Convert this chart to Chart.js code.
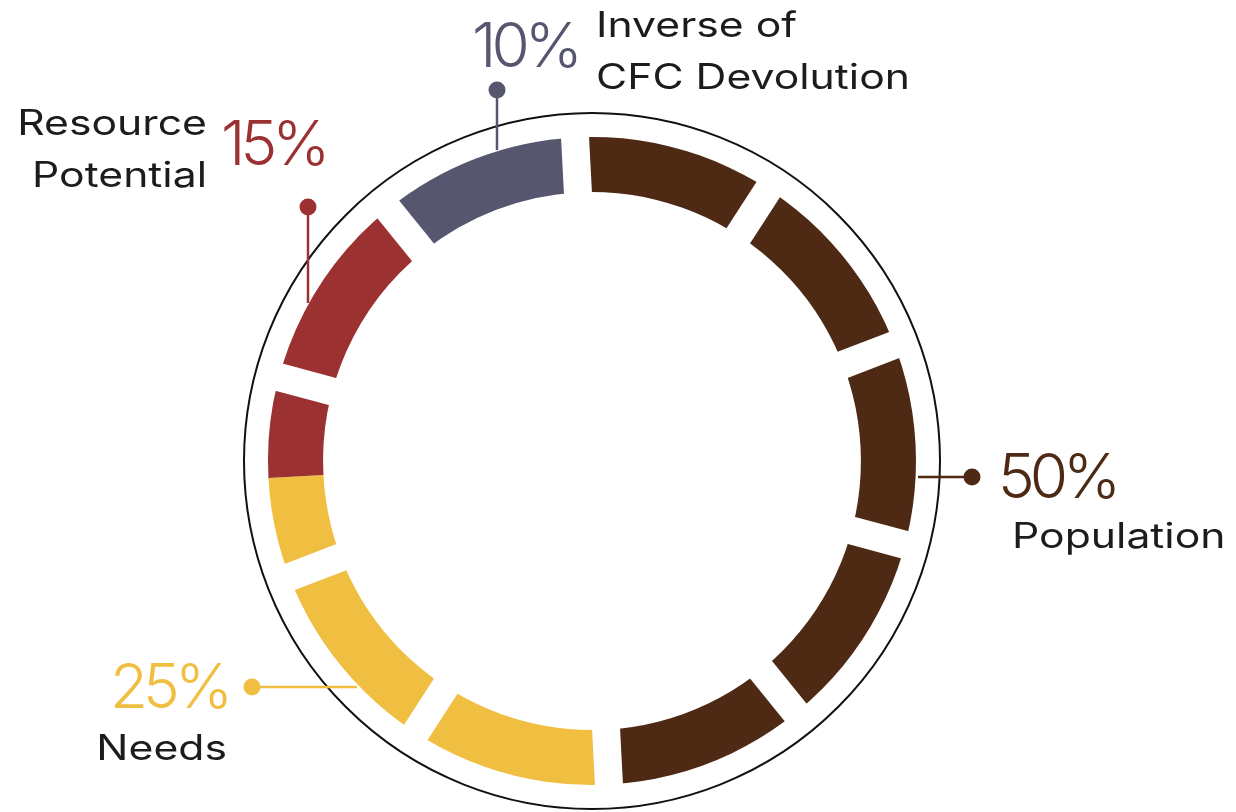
<!DOCTYPE html>
<html>
<head>
<meta charset="utf-8">
<script src="https://cdn.jsdelivr.net/npm/chart.js@4/dist/chart.umd.min.js"></script>
<style>
  html, body { margin: 0; padding: 0; background: #fff; }
</style>
</head>
<body>
<canvas id="ringChart" width="1236" height="812"></canvas>
<script>
const categories = ["Population", "Needs", "Resource\nPotential", "Inverse of\nCFC Devolution"];
const shares = [50, 25, 15, 10];
const shareLabels = ["50%", "25%", "15%", "10%"];
const colors = ["#4e2a15", "#f0bf42", "#9c3131", "#56566f"];
const blockSize = 10; // the ring is cut into blocks of 10%

// caption placement, one entry per category
const captionLayout = [
  { pct: [998, 498, "left"], name: [1012, 548, "left"], dot: [972, 477], lineTo: [918, 477] },
  { pct: [228, 708, "right"], name: [227, 760, "right"], dot: [252, 687], lineTo: [357, 687] },
  { pct: [221, 165, "left"], name: [207, 135, "right"], dot: [308, 207], lineTo: [308, 303] },
  { pct: [472, 67, "left"], name: [596, 37, "left"], dot: [497, 90], lineTo: [497, 150] },
];

const textFont = "Inter, 'Noto Sans', sans-serif";
const nameStretch = 1.22; // the original face is wider than Inter

function drawLine(ctx, text, x, y, align, stretch) {
  ctx.save();
  ctx.translate(x, y);
  ctx.scale(stretch, 1);
  ctx.textAlign = align;
  ctx.fillText(text, 0, 0);
  ctx.restore();
}

const ringDecor = {
  id: "ringDecor",
  afterDatasetsDraw(chart) {
    const ctx = chart.ctx;
    const arcs = chart.getDatasetMeta(0).data;
    const { x, y, innerRadius, outerRadius, startAngle } = arcs[0];
    const total = shares.reduce((a, b) => a + b, 0);

    ctx.save();
    // white cuts between blocks
    ctx.strokeStyle = "#fff";
    ctx.lineWidth = 28;
    ctx.lineCap = "butt";
    for (let k = 0; k < total / blockSize; k++) {
      const a = startAngle + (k * blockSize / total) * Math.PI * 2;
      ctx.beginPath();
      ctx.moveTo(x + Math.cos(a) * (innerRadius - 4), y + Math.sin(a) * (innerRadius - 4));
      ctx.lineTo(x + Math.cos(a) * (outerRadius + 4), y + Math.sin(a) * (outerRadius + 4));
      ctx.stroke();
    }

    // thin outline circle
    ctx.strokeStyle = "#111";
    ctx.lineWidth = 2;
    ctx.beginPath();
    ctx.arc(x, y, outerRadius + 24, 0, Math.PI * 2);
    ctx.stroke();

    // leaders, dots and captions
    captionLayout.forEach((c, i) => {
      ctx.strokeStyle = colors[i];
      ctx.fillStyle = colors[i];
      ctx.lineWidth = 2.5;
      ctx.beginPath();
      ctx.moveTo(c.dot[0], c.dot[1]);
      ctx.lineTo(c.lineTo[0], c.lineTo[1]);
      ctx.stroke();
      ctx.beginPath();
      ctx.arc(c.dot[0], c.dot[1], 8.5, 0, Math.PI * 2);
      ctx.fill();

      ctx.textBaseline = "alphabetic";
      ctx.font = "350 62px " + textFont;
      ctx.letterSpacing = "-5px";
      drawLine(ctx, shareLabels[i], c.pct[0], c.pct[1], c.pct[2], 1);

      ctx.letterSpacing = "0px";
      ctx.font = "400 35px " + textFont;
      ctx.fillStyle = "#1c1c1c";
      categories[i].split("\n").forEach((line, j) => {
        drawLine(ctx, line, c.name[0], c.name[1] + j * 52, c.name[2], nameStretch);
      });
    });
    ctx.restore();
  },
};

new Chart(document.getElementById("ringChart"), {
  type: "doughnut",
  data: {
    labels: categories,
    datasets: [
      {
        data: shares,
        backgroundColor: colors,
        borderWidth: 0,
      },
    ],
  },
  options: {
    responsive: false,
    animation: false,
    rotation: -3,
    cutout: "83%",
    layout: {
      padding: { left: 268, right: 320, top: 137, bottom: 27 },
    },
    plugins: {
      legend: { display: false },
      tooltip: { enabled: false },
    },
  },
  plugins: [ringDecor],
});
</script>
</body>
</html>
